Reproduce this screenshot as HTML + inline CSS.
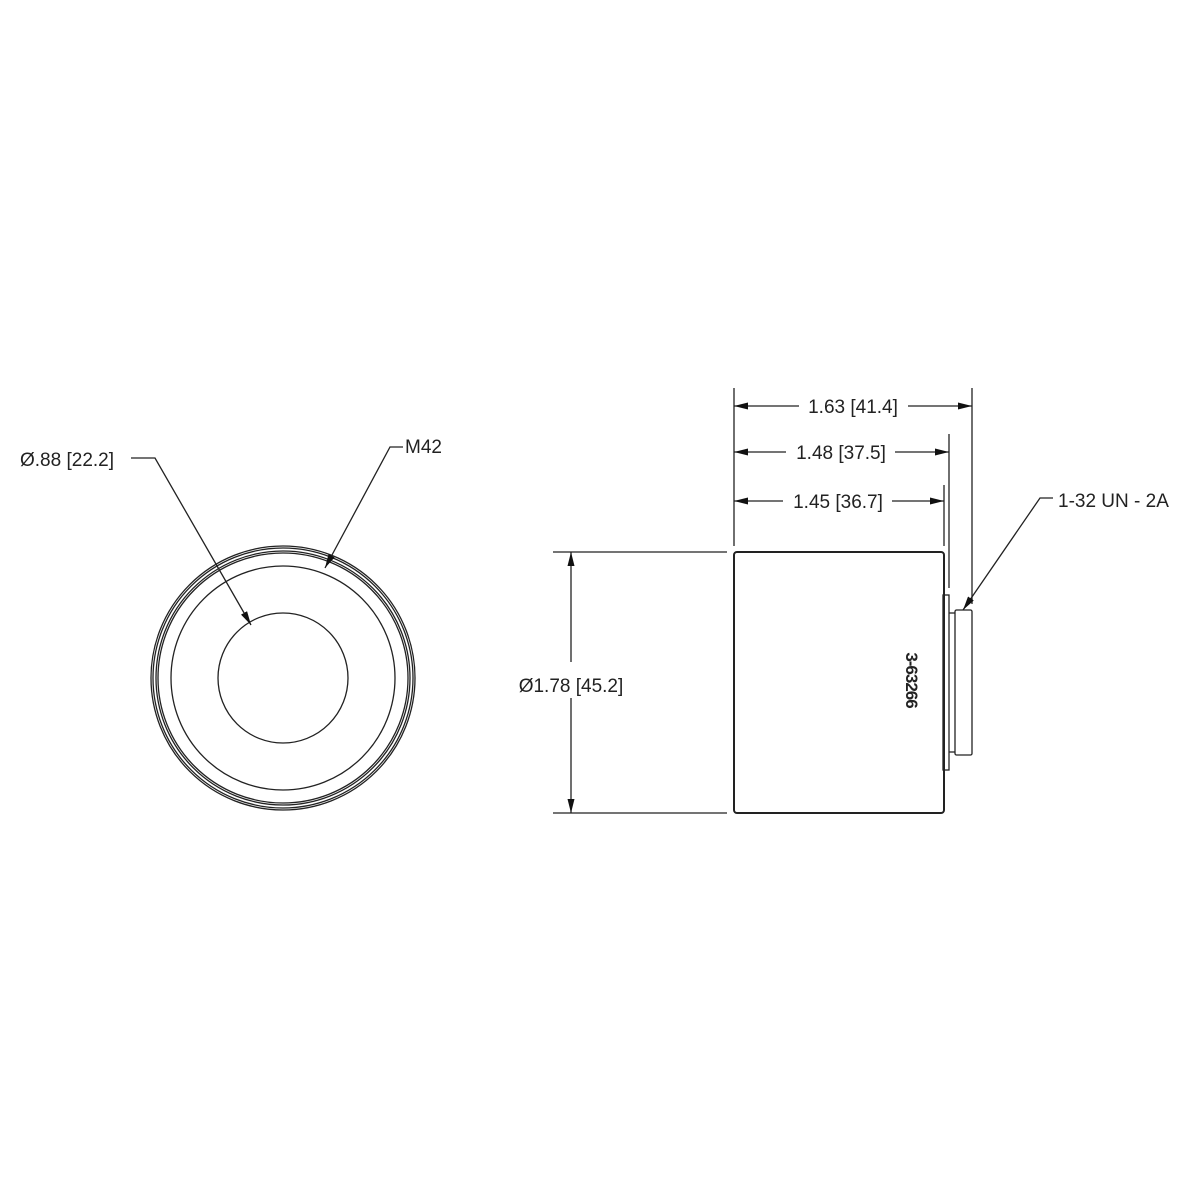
<!DOCTYPE html>
<html><head><meta charset="utf-8"><style>
html,body{margin:0;padding:0;background:#fff;}
svg{display:block;}
text{font-family:"Liberation Sans",sans-serif;font-size:19px;fill:#222;}
</style></head><body>
<svg width="1200" height="1200" viewBox="0 0 1200 1200">
<defs>
<marker id="a" viewBox="0 0 14 7" refX="14" refY="3.5" markerWidth="14" markerHeight="7" orient="auto" markerUnits="userSpaceOnUse"><path d="M0,0 L14,3.5 L0,7 Z" fill="#111"/></marker>
</defs>
<g fill="none" stroke="#222" stroke-width="1.3">
<circle cx="283" cy="678" r="132"/>
<circle cx="283" cy="678" r="130"/>
<circle cx="283" cy="678" r="127"/>
<circle cx="283" cy="678" r="125"/>
<circle cx="283" cy="678" r="112"/>
<circle cx="283" cy="678" r="65"/>
<polyline points="131,458 155,458 251,625" marker-end="url(#a)"/>
<polyline points="403,447 390,447 325,568" marker-end="url(#a)"/>
<rect x="734" y="552" width="210" height="261" rx="3" stroke-width="2"/>
<rect x="943" y="595" width="6" height="175"/>
<line x1="949" y1="613" x2="955" y2="613"/>
<line x1="949" y1="752" x2="955" y2="752"/>
<rect x="955" y="610" width="17" height="145" rx="1.5"/>
<line x1="734" y1="388" x2="734" y2="546"/>
<line x1="972" y1="388" x2="972" y2="604"/>
<line x1="949" y1="434" x2="949" y2="588"/>
<line x1="944" y1="485" x2="944" y2="546"/>
<line x1="799" y1="406" x2="734" y2="406" marker-end="url(#a)"/>
<line x1="908" y1="406" x2="972" y2="406" marker-end="url(#a)"/>
<line x1="786" y1="452" x2="734" y2="452" marker-end="url(#a)"/>
<line x1="895" y1="452" x2="949" y2="452" marker-end="url(#a)"/>
<line x1="783" y1="501" x2="734" y2="501" marker-end="url(#a)"/>
<line x1="892" y1="501" x2="944" y2="501" marker-end="url(#a)"/>
<line x1="553" y1="552" x2="727" y2="552"/>
<line x1="553" y1="813" x2="727" y2="813"/>
<line x1="571" y1="662" x2="571" y2="552" marker-end="url(#a)"/>
<line x1="571" y1="698" x2="571" y2="813" marker-end="url(#a)"/>
<polyline points="1053,498 1040,498 963,610" marker-end="url(#a)"/>
</g>
<text x="20" y="466">Ø.88 [22.2]</text>
<text x="405" y="453">M42</text>
<text x="853" y="413" text-anchor="middle">1.63 [41.4]</text>
<text x="841" y="459" text-anchor="middle">1.48 [37.5]</text>
<text x="838" y="508" text-anchor="middle">1.45 [36.7]</text>
<text x="571" y="692" text-anchor="middle">Ø1.78 [45.2]</text>
<text x="1058" y="507">1-32 UN - 2A</text>
<text transform="translate(906,680) rotate(90)" text-anchor="middle" style="font-weight:bold;font-size:17px;letter-spacing:-1px">3-63266</text>
</svg>
</body></html>
